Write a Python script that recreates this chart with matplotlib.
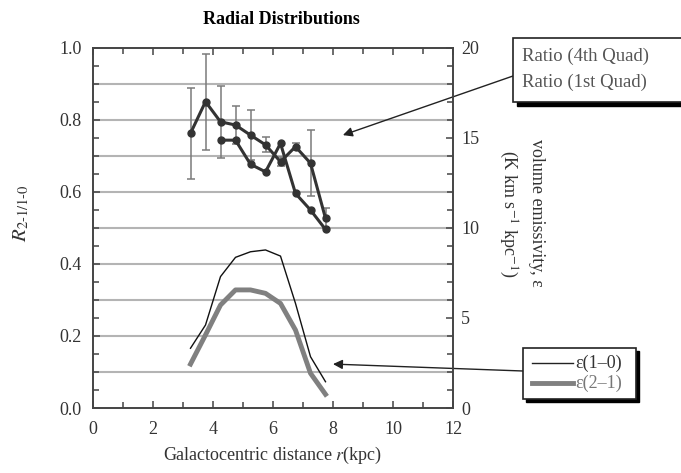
import matplotlib.pyplot as plt
from matplotlib.patches import Rectangle
from matplotlib.ticker import MultipleLocator

plt.rcParams['font.family'] = ['Liberation Serif', 'DejaVu Serif']
plt.rcParams['mathtext.fontset'] = 'stix'

# galactocentric radius (kpc)
r_4th = [3.25, 3.75, 4.25, 4.75, 5.25, 5.75, 6.25, 6.75, 7.25, 7.75]
ratio_4th = [0.763, 0.851, 0.795, 0.786, 0.758, 0.731, 0.684, 0.726, 0.680, 0.527]
err_4th = [0.126, 0.133, 0.100, 0.054, 0.069, 0.021, 0.012, 0.010, 0.091, 0.028]

r_1st = [4.25, 4.75, 5.25, 5.75, 6.25, 6.75, 7.25, 7.75]
ratio_1st = [0.744, 0.744, 0.677, 0.656, 0.735, 0.596, 0.550, 0.496]

r_eps = [3.25, 3.75, 4.25, 4.75, 5.25, 5.75, 6.25, 6.75, 7.25, 7.75]
eps_10 = [3.32, 4.61, 7.30, 8.37, 8.68, 8.78, 8.44, 5.81, 2.85, 1.46]
eps_21 = [2.44, 4.06, 5.72, 6.56, 6.56, 6.37, 5.81, 4.33, 1.93, 0.76]

W, H = 681, 473
fig = plt.figure(figsize=(W / 100, H / 100), dpi=100)
ax = fig.add_axes([93 / W, 1 - 408 / H, 360 / W, 360 / H])
ax2 = ax.twinx()

spine_col = '#444444'
for a in (ax, ax2):
    for s in a.spines.values():
        s.set_color(spine_col)
        s.set_linewidth(1.2)

# horizontal grid
for g in [0.1, 0.2, 0.3, 0.4, 0.5, 0.6, 0.7, 0.8, 0.9]:
    ax.axhline(g, color='#b4b4b4', lw=1.5, zorder=0)

ax.errorbar(r_4th, ratio_4th, yerr=err_4th, fmt='none', ecolor='#7a7a7a',
            elinewidth=1.1, capsize=3, capthick=1.1, zorder=2)
ax.plot(r_4th, ratio_4th, '-o', color='#333333', lw=2.2, ms=5, zorder=3)
ax.plot(r_1st, ratio_1st, '-o', color='#333333', lw=2.2, ms=5, zorder=3)

ax2.plot(r_eps, eps_10, color='#111111', lw=1.0)
ax2.plot(r_eps, eps_21, color='#808080', lw=3.5)

ax.set_xlim(0, 12)
ax.set_ylim(0, 1.0)
ax2.set_ylim(0, 20)

ax.xaxis.set_major_locator(MultipleLocator(2))
ax.xaxis.set_minor_locator(MultipleLocator(1))
ax.yaxis.set_major_locator(MultipleLocator(0.2))
ax.yaxis.set_minor_locator(MultipleLocator(0.05))
ax2.yaxis.set_major_locator(MultipleLocator(5))
ax2.yaxis.set_minor_locator(MultipleLocator(1))
ax.yaxis.set_major_formatter(plt.FuncFormatter(lambda v, p: f'{v:.1f}'))

ax.tick_params(which='both', direction='in', top=True, right=False,
               colors=spine_col, labelcolor='#333333', labelsize=13)
ax.tick_params(which='major', length=5, width=1.1)
ax.tick_params(which='minor', length=4, width=1.1)
ax.tick_params(axis='x', which='major', pad=9)
ax.tick_params(axis='y', which='major', pad=8)
ax2.tick_params(which='both', direction='in', colors=spine_col,
                labelcolor='#333333', labelsize=13)
ax2.tick_params(which='major', length=5, width=1.1, pad=6)
ax2.tick_params(which='minor', length=4, width=1.1)

ax.set_xlabel('Galactocentric distance $r$(kpc)', fontsize=13, color='#333333')
ax.xaxis.set_label_coords(0.5, -37 / 360)
ax.set_ylabel(r'$R_{\mathrm{2\text{-}1/1\text{-}0}}$', fontsize=15, color='#333333')
ax.yaxis.set_label_coords(-62 / 360, 0.54)
fig.text(281 / W, 1 - 20 / H, 'Radial Distributions', ha='center', va='center',
         fontsize=13, fontweight='bold')

fig.text(537 / W, 1 - 213 / H, 'volume emissivity, ε', rotation=270,
         ha='center', va='center', fontsize=13, color='#333333')
fig.text(508 / W, 1 - 214 / H, r'(K km s$^{-1}$ kpc$^{-1}$)', rotation=270,
         ha='center', va='center', fontsize=13, color='#333333')


def box(x0, y0, x1, y1, sh):
    # shadow then white box, pixel coords from top-left
    fig.patches.append(Rectangle(((x0 + sh) / W, 1 - (y1 + sh) / H),
                                 (x1 - x0) / W, (y1 - y0) / H,
                                 transform=fig.transFigure, facecolor='black',
                                 edgecolor='black', zorder=5))
    fig.patches.append(Rectangle((x0 / W, 1 - y1 / H), (x1 - x0) / W,
                                 (y1 - y0) / H, transform=fig.transFigure,
                                 facecolor='white', edgecolor='#222222',
                                 lw=1.2, zorder=6))


box(513, 38, 700, 102, 4)
fig.text(522 / W, 1 - 56 / H, 'Ratio (4th Quad)', fontsize=13.5, color='#555555',
         va='center', zorder=7)
fig.text(522 / W, 1 - 82 / H, 'Ratio (1st Quad)', fontsize=13.5, color='#555555',
         va='center', zorder=7)

box(523, 348, 636, 399, 3)
fig.lines.append(plt.Line2D([532 / W, 573 / W], [1 - 363 / H, 1 - 363 / H],
                            transform=fig.transFigure, color='#222222', lw=1.0,
                            zorder=7))
fig.lines.append(plt.Line2D([532 / W, 573 / W], [1 - 383 / H, 1 - 383 / H],
                            transform=fig.transFigure, color='#808080', lw=3.5,
                            zorder=7))
fig.text(575 / W, 1 - 363 / H, 'ε(1–0)', fontsize=13, color='#333333',
         va='center', zorder=7)
fig.text(575 / W, 1 - 383 / H, 'ε(2–1)', fontsize=13, color='#777777',
         va='center', zorder=7)

arrow = dict(arrowstyle='-|>', color='#222222', lw=1.0, mutation_scale=14,
             shrinkA=0, shrinkB=0)
ax.annotate('', xy=(8.33, 0.758), xycoords='data',
            xytext=(513 / W, 1 - 76 / H), textcoords='figure fraction',
            arrowprops=arrow, annotation_clip=False)
ax.annotate('', xy=(8.0, 0.122), xycoords='data',
            xytext=(523 / W, 1 - 371 / H), textcoords='figure fraction',
            arrowprops=arrow, annotation_clip=False)

fig.savefig('out.png', dpi=100)
